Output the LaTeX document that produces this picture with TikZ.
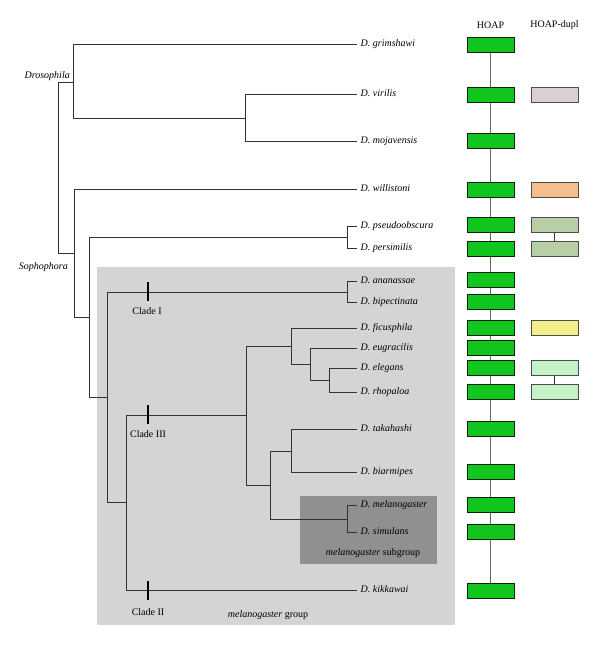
\documentclass[tikz,border=0pt]{standalone}
\usepackage{fontspec}
\setmainfont{Liberation Serif}
\begin{document}
\begin{tikzpicture}[x=1pt,y=-1pt,
  branch/.style={draw=black!80,line width=0.9pt},
  leaf/.style={anchor=west,inner xsep=3.5pt,inner ysep=1pt,font=\fontsize{10}{12}\selectfont\itshape,text height=6.5pt,text depth=2.5pt},
  lbl/.style={inner sep=0pt,font=\fontsize{10}{12}\selectfont},
  tickmark/.style={draw=black,line width=1.4pt},
  hoap/.style={draw=black!75!green!60!black,line width=0.8pt,fill=hoapgreen,minimum width=47pt,minimum height=15pt,inner sep=0pt},
  dupl/.style={draw=black!70,line width=0.8pt,minimum width=47pt,minimum height=15pt,inner sep=0pt},
  hline/.style={draw=black!60,line width=0.8pt}
]
\definecolor{hoapgreen}{HTML}{12C41E}
\definecolor{groupgray}{HTML}{D4D4D4}
\definecolor{subgray}{HTML}{909090}
\useasboundingbox[fill=white] (0,0) rectangle (600,646);

% shaded groups
\fill[groupgray] (97,267) rectangle (455,625);
\fill[subgray] (300,496) rectangle (437,564);

% internal node coordinates
\coordinate (root) at (58,167);
\coordinate (dros) at (73,82);
\coordinate (vm) at (245,118);
\coordinate (soph) at (74,253);
\coordinate (n3) at (89,317);
\coordinate (pp) at (347,237);
\coordinate (mg) at (107,397);
\coordinate (c1) at (347,292);
\coordinate (n5) at (126,502);
\coordinate (c3) at (246,415);
\coordinate (n7) at (291,346);
\coordinate (n8) at (310,364);
\coordinate (n9) at (329,380);
\coordinate (n10) at (270,485);
\coordinate (n11) at (291,451);
\coordinate (n12) at (347,519);

% leaves
\node[leaf] (grim) at (357,44) {D. grimshawi};
\node[leaf] (viri) at (357,94) {D. virilis};
\node[leaf] (moja) at (357,141) {D. mojavensis};
\node[leaf] (will) at (357,189) {D. willistoni};
\node[leaf] (pseu) at (357,226) {D. pseudoobscura};
\node[leaf] (pers) at (357,248) {D. persimilis};
\node[leaf] (anan) at (357,281) {D. ananassae};
\node[leaf] (bipe) at (357,302) {D. bipectinata};
\node[leaf] (ficu) at (357,328) {D. ficusphila};
\node[leaf] (eugr) at (357,348) {D. eugracilis};
\node[leaf] (eleg) at (357,368) {D. elegans};
\node[leaf] (rhop) at (357,392) {D. rhopaloa};
\node[leaf] (taka) at (357,429) {D. takahashi};
\node[leaf] (biar) at (357,472) {D. biarmipes};
\node[leaf] (mela) at (357,505) {D. melanogaster};
\node[leaf] (simu) at (357,532) {D. simulans};
\node[leaf] (kikk) at (357,590) {D. kikkawai};

% tree branches
\draw[branch] (root |- dros) -- (root |- soph);
\draw[branch] (root |- dros) -- (dros);
\draw[branch] (root |- soph) -- (soph);
\draw[branch] (dros) |- (grim.west);
\draw[branch] (dros) |- (vm);
\draw[branch] (vm) |- (viri.west);
\draw[branch] (vm) |- (moja.west);
\draw[branch] (soph) |- (will.west);
\draw[branch] (soph) |- (n3);
\draw[branch] (n3) |- (pp);
\draw[branch] (n3) |- (mg);
\draw[branch] (pp) |- (pseu.west);
\draw[branch] (pp) |- (pers.west);
\draw[branch] (mg) |- (c1);
\draw[branch] (mg) |- (n5);
\draw[branch] (c1) |- (anan.west);
\draw[branch] (c1) |- (bipe.west);
\draw[branch] (n5) |- (c3);
\draw[branch] (n5) |- (kikk.west);
\draw[branch] (c3) |- (n7);
\draw[branch] (c3) |- (n10);
\draw[branch] (n7) |- (ficu.west);
\draw[branch] (n7) |- (n8);
\draw[branch] (n8) |- (eugr.west);
\draw[branch] (n8) |- (n9);
\draw[branch] (n9) |- (eleg.west);
\draw[branch] (n9) |- (rhop.west);
\draw[branch] (n10) |- (n11);
\draw[branch] (n10) |- (n12);
\draw[branch] (n11) |- (taka.west);
\draw[branch] (n11) |- (biar.west);
\draw[branch] (n12) |- (mela.west);
\draw[branch] (n12) |- (simu.west);

% clade ticks
\draw[tickmark] (148,282) -- (148,301);
\draw[tickmark] (148,405) -- (148,424);
\draw[tickmark] (148,581) -- (148,600);

% labels
\node[lbl,anchor=east,font=\fontsize{10}{12}\selectfont\itshape] (ldros) at (70,76) {Drosophila};
\node[lbl,anchor=east,font=\fontsize{10}{12}\selectfont\itshape] (lsoph) at (68,267) {Sophophora};
\node[lbl] (lc1) at (147,311) {Clade I};
\node[lbl] (lc3) at (148,434) {Clade III};
\node[lbl] (lc2) at (148,612) {Clade II};
\node[lbl] (lmg) at (268,615) {\textit{melanogaster} group};
\node[lbl] (lsg) at (373,553) {\textit{melanogaster} subgroup};
\node[lbl] (hhoap) at (490.5,25) {HOAP};
\node[lbl] (hdupl) at (554.5,25) {HOAP-dupl};

% HOAP column
\coordinate (htop) at (490.5,44.5);
\coordinate (hbot) at (490.5,590.5);
\draw[hline] (htop) -- (hbot);
\foreach \n/\y in {1/44.5,2/94.5,3/140.5,4/189.5,5/225,6/249,7/280,8/302,9/328,10/348,11/368,12/392,13/429,14/472,15/505,16/532,17/590.5}
  \node[hoap] (h\n) at (490.5,\y) {};

% HOAP-dupl column
\node[dupl,fill={rgb,255:red,217;green,208;blue,208}] (d2) at (554.5,94.5) {};
\node[dupl,fill={rgb,255:red,245;green,190;blue,140}] (d4) at (554.5,189.5) {};
\node[dupl,fill={rgb,255:red,184;green,207;blue,165}] (d5) at (554.5,225) {};
\node[dupl,fill={rgb,255:red,184;green,207;blue,165}] (d6) at (554.5,249) {};
\node[dupl,fill={rgb,255:red,243;green,238;blue,140}] (d9) at (554.5,328) {};
\node[dupl,fill={rgb,255:red,194;green,242;blue,198}] (d11) at (554.5,368) {};
\node[dupl,fill={rgb,255:red,194;green,242;blue,198}] (d12) at (554.5,392) {};
\draw[draw=black!80,line width=0.8pt] (d5) -- (d6);
\draw[draw=black!80,line width=0.8pt] (d11) -- (d12);
\end{tikzpicture}
\end{document}
